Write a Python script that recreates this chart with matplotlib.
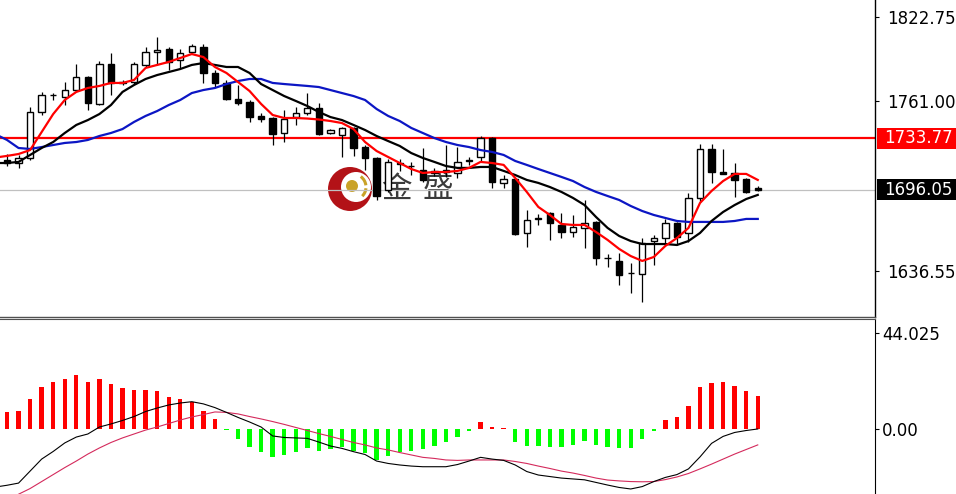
import numpy as np
import matplotlib
matplotlib.use("Agg")
import matplotlib.pyplot as plt
from matplotlib.patches import Ellipse, Rectangle, Arc
from matplotlib.transforms import blended_transform_factory

# ---------------- data ----------------
opens = [1717.9, 1715.7, 1719.4, 1753.1, 1765.2, 1764.1, 1769.2, 1778.8, 1759.0, 1788.3,
         1775.1, 1775.1, 1787.6, 1797.1, 1799.3, 1791.2, 1797.1, 1800.8, 1781.7, 1774.4,
         1762.6, 1760.4, 1750.2, 1748.7, 1737.7, 1749.4, 1752.4, 1756.0, 1737.7, 1736.2,
         1741.4, 1727.4, 1719.4, 1695.9, 1715.7, 1713.5, 1710.6, 1709.9, 1710.6, 1708.4,
         1717.2, 1720.1, 1734.0, 1701.1, 1704.0, 1664.4, 1674.7, 1679.1, 1670.3, 1665.1,
         1668.1, 1672.5, 1646.1, 1643.9, 1635.1, 1634.3, 1658.5, 1660.7, 1671.7, 1664.4,
         1690.1, 1726.0, 1709.1, 1708.4, 1704.0, 1697.4]
highs = [1722.3, 1721.6, 1756.8, 1767.8, 1767.0, 1775.1, 1788.3, 1779.5, 1790.5, 1796.4,
         1776.6, 1789.8, 1800.8, 1808.1, 1800.8, 1799.3, 1803.0, 1803.0, 1783.9, 1776.6,
         1772.9, 1761.9, 1752.4, 1749.4, 1754.6, 1756.8, 1767.0, 1759.7, 1740.6, 1742.1,
         1742.1, 1728.9, 1720.1, 1718.7, 1718.7, 1716.5, 1726.7, 1712.1, 1728.9, 1727.4,
         1720.1, 1735.5, 1734.8, 1706.9, 1704.7, 1681.3, 1678.3, 1679.8, 1679.1, 1677.6,
         1688.6, 1673.2, 1649.0, 1649.7, 1642.4, 1660.7, 1662.9, 1674.7, 1672.5, 1693.7,
         1729.6, 1729.6, 1726.0, 1715.7, 1704.7, 1698.9]
lows = [1713.5, 1712.1, 1717.9, 1750.9, 1761.9, 1758.2, 1768.5, 1754.6, 1758.2, 1765.6,
        1772.9, 1773.6, 1786.1, 1787.6, 1783.9, 1785.4, 1796.4, 1774.4, 1771.4, 1761.9,
        1758.2, 1745.8, 1745.8, 1728.9, 1731.1, 1743.6, 1750.9, 1736.2, 1737.0, 1720.1,
        1720.9, 1710.6, 1688.6, 1694.5, 1709.9, 1706.9, 1701.8, 1706.2, 1705.5, 1704.7,
        1714.3, 1716.5, 1697.4, 1697.4, 1662.9, 1654.1, 1670.3, 1659.3, 1660.7, 1661.5,
        1653.4, 1640.9, 1639.5, 1626.3, 1620.4, 1613.8, 1640.9, 1655.6, 1655.6, 1657.8,
        1687.1, 1701.1, 1707.7, 1690.8, 1693.7, 1695.2]
closes = [1715.7, 1719.4, 1753.1, 1765.6, 1765.6, 1769.2, 1778.8, 1759.7, 1788.3, 1774.4,
          1774.7, 1788.3, 1797.1, 1798.6, 1789.8, 1796.4, 1801.5, 1781.7, 1774.4, 1762.6,
          1759.7, 1749.4, 1748.0, 1737.0, 1748.0, 1752.4, 1756.0, 1737.0, 1739.9, 1741.4,
          1726.7, 1719.4, 1691.5, 1716.5, 1715.3, 1713.2, 1703.3, 1708.4, 1709.1, 1716.5,
          1717.5, 1734.0, 1701.8, 1704.0, 1663.7, 1673.9, 1675.0, 1671.7, 1665.1, 1668.8,
          1671.7, 1646.1, 1645.7, 1633.6, 1634.7, 1657.1, 1660.7, 1671.7, 1661.5, 1690.1,
          1726.0, 1709.1, 1708.0, 1703.3, 1694.5, 1696.05]

# moving averages (first value belongs to the bar just left of the view)
ma_fast = [1719.7, 1720.9, 1722.3, 1725.2, 1738.4, 1751.6, 1761.9, 1767.8, 1770.7, 1772.2, 1774.4,
           1774.4, 1776.6, 1785.4, 1787.6, 1789.8, 1792.7, 1795.6, 1793.4, 1786.1, 1781.7,
           1775.1, 1768.5, 1759.0, 1750.9, 1748.7, 1748.7, 1748.3, 1747.6, 1746.5, 1745.0,
           1740.6, 1731.1, 1724.5, 1720.1, 1715.7, 1711.3, 1708.4, 1709.1, 1709.1, 1709.9,
           1712.1, 1716.5, 1715.7, 1714.3, 1704.7, 1694.5, 1683.5, 1677.6, 1671.0, 1670.3,
           1670.3, 1665.1, 1659.3, 1652.7, 1647.5, 1643.9, 1646.8, 1654.9, 1660.7, 1668.1,
           1686.4, 1695.2, 1702.5, 1707.7, 1707.7, 1703.3]
ma_mid = [1715.7, 1715.7, 1716.5, 1721.6, 1726.7, 1731.1, 1737.7, 1743.6, 1747.2, 1751.6, 1758.2,
          1767.8, 1772.9, 1777.3, 1780.2, 1782.4, 1784.6, 1787.6, 1789.0, 1787.6, 1786.1,
          1786.1, 1781.7, 1773.6, 1769.2, 1764.8, 1761.2, 1757.5, 1753.1, 1749.4, 1747.2,
          1743.6, 1739.9, 1735.5, 1731.8, 1728.2, 1723.0, 1719.4, 1716.5, 1713.5, 1712.1,
          1712.1, 1712.8, 1712.8, 1709.9, 1706.9, 1703.3, 1701.1, 1698.1, 1694.5, 1690.1,
          1684.9, 1676.1, 1668.1, 1662.2, 1658.5, 1656.3, 1656.3, 1656.3, 1655.6, 1658.5,
          1664.4, 1673.2, 1679.8, 1684.9, 1689.3, 1692.3]
ma_slow = [1736.8, 1732.6, 1726.7, 1726.0, 1727.4, 1728.9, 1730.4, 1731.1, 1732.6, 1735.5, 1737.7,
           1740.6, 1745.8, 1750.2, 1753.8, 1758.2, 1761.9, 1767.0, 1769.2, 1770.7, 1773.6,
           1775.8, 1777.3, 1777.3, 1774.4, 1773.6, 1772.9, 1772.2, 1771.4, 1769.2, 1767.0,
           1764.8, 1761.9, 1755.3, 1750.2, 1746.5, 1741.4, 1737.7, 1734.0, 1731.1, 1728.9,
           1727.4, 1725.2, 1723.8, 1721.6, 1717.2, 1714.3, 1711.3, 1708.4, 1705.5, 1702.5,
           1698.1, 1694.5, 1691.5, 1688.6, 1684.2, 1680.5, 1677.6, 1675.4, 1673.2, 1672.5,
           1672.5, 1672.5, 1672.5, 1673.2, 1674.7, 1674.7]

resistance_level = 1733.77
last_price = 1696.05
price_ticks = [1822.75, 1761.00, 1636.55]
price_tick_labels = ["1822.75", "1761.00", "1636.55"]

# MACD panel
macd_hist = [7.9, 8.4, 13.8, 19.1, 21.6, 22.8, 24.6, 21.7, 22.8, 20.5,
             18.7, 18.0, 17.9, 17.4, 14.8, 13.6, 12.5, 8.4, 4.4, -0.5,
             -4.7, -8.1, -10.4, -13.0, -11.9, -10.4, -8.9, -10.1, -9.3, -8.1,
             -9.9, -10.9, -14.2, -12.4, -10.4, -9.9, -9.3, -7.8, -5.8, -3.5,
             -0.9, 3.4, 1.0, 0.6, -5.8, -7.8, -7.8, -8.4, -8.4, -7.3,
             -5.3, -7.3, -8.4, -8.9, -8.9, -4.7, -0.9, 4.1, 5.4, 10.7,
             19.1, 20.9, 21.6, 19.7, 17.4, 15.0]
macd_line = [-26.6, -25.8, -24.8, -19.3, -13.8, -10.3, -6.4, -3.7, -2.3, 0.9, 2.3,
             3.9, 5.7, 8.0, 9.6, 11.0, 11.9, 12.5, 11.5, 9.8, 7.6,
             5.3, 3.2, 0.9, -3.2, -3.9, -4.1, -4.3, -6.0, -7.8, -8.9,
             -10.4, -11.7, -14.7, -15.8, -16.5, -17.0, -17.3, -17.3, -17.3, -16.3,
             -14.7, -13.0, -13.8, -14.4, -16.5, -19.5, -21.1, -21.8, -22.5, -22.9,
             -23.3, -24.5, -25.7, -26.8, -27.5, -26.4, -24.1, -22.2, -20.9, -18.3,
             -12.8, -6.6, -3.4, -1.6, -0.7, 0.0]
signal_line = [-35.8, -32.8, -29.9, -27.3, -24.1, -20.9, -17.7, -14.7, -11.5, -8.7, -6.2,
               -4.1, -2.3, -0.5, 0.9, 2.5, 4.1, 5.5, 6.6, 7.8, 7.6,
               6.9, 5.7, 4.6, 3.4, 2.1, 0.7, -0.7, -2.1, -3.4, -4.8,
               -6.2, -7.3, -8.7, -9.6, -10.8, -11.9, -13.0, -13.5, -14.2, -14.4,
               -14.2, -14.2, -14.2, -14.2, -14.9, -15.8, -17.0, -18.1, -19.3, -20.2,
               -21.3, -22.5, -23.4, -23.8, -24.1, -24.2, -24.1, -23.2, -22.0, -20.4,
               -18.3, -16.1, -13.8, -11.5, -9.4, -7.3]
macd_ticks = [44.025, 0.0]
macd_tick_labels = ["44.025", "0.00"]

# ---------------- figure ----------------
W, H = 956, 494
fig = plt.figure(figsize=(W / 100, H / 100), dpi=100)
fig.patch.set_facecolor("white")
ax = fig.add_axes([0, (H - 317) / H, 875 / W, 317 / H])
ax2 = fig.add_axes([0, 0, 875 / W, 175 / H])

xlim = (-0.606, 75.15)
price_lim = (1602.8, 1835.21)
macd_lim = (-29.8, 50.4)

idx = np.arange(len(opens))
x_ma = np.arange(-1, len(opens))
o = np.array(opens); c = np.array(closes)
hi = np.array(highs); lo = np.array(lows)
up = c >= o
b_lo = np.minimum(o, c)
b_h = np.maximum(np.abs(c - o), 0.35)

# watermark (background)
cx, cy = 350 / 875, 1 - 189 / 317
rx, ry = 1 / 875, 1 / 317
ax.add_patch(Ellipse((cx, cy), 44 * rx, 44 * ry, transform=ax.transAxes,
                     facecolor="#b31217", edgecolor="none", zorder=0.5))
ax.add_patch(Ellipse((cx + 6 * rx, cy + 2 * ry), 30 * rx, 30 * ry, transform=ax.transAxes,
                     facecolor="white", edgecolor="none", zorder=0.6))
ax.add_patch(Arc((cx + 3 * rx, cy + 2 * ry), 26 * rx, 26 * ry, theta1=-70, theta2=-15,
                 transform=ax.transAxes, color="#c9a227", lw=2.2, zorder=0.7))
ax.add_patch(Arc((cx + 3 * rx, cy + 2 * ry), 26 * rx, 26 * ry, theta1=20, theta2=75,
                 transform=ax.transAxes, color="#c9a227", lw=2.2, zorder=0.7))
ax.add_patch(Ellipse((cx + 2 * rx, cy + 3 * ry), 12 * rx, 12 * ry, transform=ax.transAxes,
                     facecolor="#c9a227", edgecolor="none", zorder=0.7))
ax.text(396 / 875, 1 - 189 / 317, "金", transform=ax.transAxes, fontsize=22,
        family=["Noto Sans CJK SC", "DejaVu Sans"], color="#3a3a3a",
        ha="center", va="center", zorder=0.8)
ax.text(438 / 875, 1 - 188 / 317, "盛", transform=ax.transAxes, fontsize=22,
        family=["Noto Sans CJK SC", "DejaVu Sans"], color="#3a3a3a",
        ha="center", va="center", zorder=0.8)

# horizontal levels
ax.axhline(last_price, color="#c0c0c0", lw=0.9, zorder=1)
ax.axhline(resistance_level, color="#ff0000", lw=1.6, zorder=1.2)

# candles
ax.vlines(idx, lo, hi, color="black", lw=0.9, zorder=2)
ax.bar(idx[up], b_h[up], bottom=b_lo[up], width=0.55, facecolor="white",
       edgecolor="black", linewidth=1.0, zorder=3)
ax.bar(idx[~up], b_h[~up], bottom=b_lo[~up], width=0.55, facecolor="black",
       edgecolor="black", linewidth=1.0, zorder=3)

# moving averages
ax.plot(x_ma, ma_slow, color="#0c16c4", lw=1.6, zorder=4)
ax.plot(x_ma, ma_mid, color="black", lw=1.6, zorder=4)
ax.plot(x_ma, ma_fast, color="#ff0000", lw=1.6, zorder=4)

ax.set_xlim(*xlim)
ax.set_ylim(*price_lim)
ax.set_xticks([])
ax.yaxis.tick_right()
ax.set_yticks(price_ticks)
ax.set_yticklabels(price_tick_labels)
ax.tick_params(axis="y", length=3, width=0.8, pad=6, labelsize=12, colors="black")
for s in ["left", "top"]:
    ax.spines[s].set_visible(False)
ax.spines["right"].set_color("black")
ax.spines["bottom"].set_color("#505050")
ax.spines["right"].set_linewidth(1.0)
ax.spines["bottom"].set_linewidth(1.0)

# boxed price labels on the right scale
trans = blended_transform_factory(ax.transAxes, ax.transData)
px_per_unit = 317 / (price_lim[1] - price_lim[0])
box_h = 21 / px_per_unit
for val, fc in [(resistance_level, "#ff0000"), (last_price, "black")]:
    ax.add_patch(Rectangle((1 + 2 / 875, val - box_h / 2), 0.2, box_h, transform=trans,
                           facecolor=fc, edgecolor="none", clip_on=False, zorder=5))
    ax.text(1 + 9 / 875, val, f"{val:.2f}", transform=trans, fontsize=12,
            color="white", ha="left", va="center", clip_on=False, zorder=6)

# ---------------- MACD panel ----------------
hist = np.array(macd_hist)
cols = np.where(hist >= 0, "#ff0000", "#00ff00")
ax2.bar(idx, hist, width=0.38, color=cols, zorder=2)
ax2.plot(x_ma, signal_line, color="#d42a5c", lw=0.8, zorder=3)
ax2.plot(x_ma, macd_line, color="black", lw=0.8, zorder=4)

ax2.set_xlim(*xlim)
ax2.set_ylim(*macd_lim)
ax2.set_xticks([])
ax2.yaxis.tick_right()
ax2.set_yticks(macd_ticks)
ax2.set_yticklabels(macd_tick_labels)
ax2.tick_params(axis="y", length=3, width=0.8, pad=2, labelsize=12, colors="black")
for s in ["left", "bottom"]:
    ax2.spines[s].set_visible(False)
ax2.spines["right"].set_color("black")
ax2.spines["top"].set_color("#505050")

fig.savefig("out.png", dpi=100, facecolor="white")
